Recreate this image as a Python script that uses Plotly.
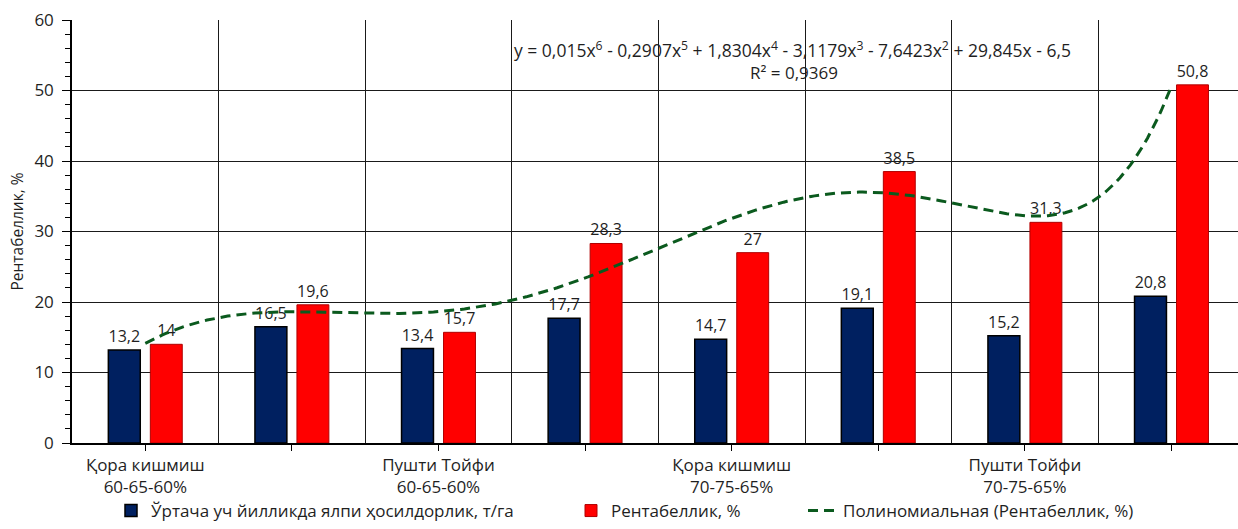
import numpy as np
import plotly.graph_objects as go

# ---- data ----
tick_labels = ["Қора кишмиш<br>60-65-60%", "", "Пушти Тойфи<br>60-65-60%", "",
               "Қора кишмиш<br>70-75-65%", "", "Пушти Тойфи<br>70-75-65%", ""]
yield_vals = [13.2, 16.5, 13.4, 17.7, 14.7, 19.1, 15.2, 20.8]
rent_vals = [14, 19.6, 15.7, 28.3, 27, 38.5, 31.3, 50.8]
# polynomial trendline coefficients as shown on the chart (x^6 ... x^0)
trend_coeffs = [0.015, -0.2907, 1.8304, -3.1179, -7.6423, 29.845, -6.5]

name_yield = "Ўртача уч йилликда ялпи ҳосилдорлик, т/га"
name_rent = "Рентабеллик, %"
name_trend = "Полиномиальная (Рентабеллик, %)"

FONT = "Open Sans"
TXT = "#1f1f1f"

x_idx = list(range(len(yield_vals)))

def fmt(v):
    return f"{v:g}".replace(".", ",")

fig = go.Figure()
fig.add_trace(go.Bar(
    x=x_idx, y=yield_vals, name=name_yield,
    marker=dict(color="#002060", line=dict(color="#000000", width=1.5)),
    text=[fmt(v) for v in yield_vals], textposition="outside",
    textfont=dict(family=FONT, size=16, color=TXT),
    cliponaxis=False, legend="legend", showlegend=True,
))
fig.add_trace(go.Bar(
    x=x_idx, y=rent_vals, name=name_rent,
    marker=dict(color="#FF0000", line=dict(color="#B00000", width=1)),
    text=[fmt(v) for v in rent_vals], textposition="outside",
    textfont=dict(family=FONT, size=16, color=TXT),
    cliponaxis=False, legend="legend2", showlegend=True,
))

xt = np.linspace(1, len(rent_vals), 300)
yt = np.polyval(trend_coeffs, xt)
fig.add_trace(go.Scatter(
    x=xt - 1, y=yt, mode="lines", name=name_trend,
    line=dict(color="#0B5A1E", width=3, dash="10px,6px"),
    legend="legend3", showlegend=True,
))

L, T, B = 72, 20, 86
W, H = 1238, 529
pw = W - L
ph = H - T - B

def px(xp):
    return (xp - L) / pw

def py(yp):
    return (T + ph - yp) / ph

def cx(xp):
    return xp / W

leg_common = dict(orientation="h", yanchor="bottom", xanchor="left",
                  xref="container", yref="container", y=-0.009,
                  font=dict(family=FONT, size=17, color=TXT),
                  bgcolor="rgba(0,0,0,0)", borderwidth=0)

fig.update_layout(
    width=W, height=H,
    margin=dict(l=L, r=0, t=T, b=B, autoexpand=False),
    paper_bgcolor="white", plot_bgcolor="white",
    showlegend=True,
    barmode="group", bargap=0.427, bargroupgap=0.24,
    font=dict(family=FONT, color=TXT),
    legend=dict(x=cx(111), **leg_common),
    legend2=dict(x=cx(571), **leg_common),
    legend3=dict(x=cx(803), **leg_common),
    xaxis=dict(
        range=[-0.5, -0.5 + pw / 146.6],
        tickmode="array", tickvals=x_idx, ticktext=tick_labels,
        ticks="outside", ticklen=6, tickcolor="#000", tickwidth=1.3,
        tickfont=dict(family=FONT, size=17, color=TXT),
        showgrid=False, zeroline=False,
        showline=True, linecolor="#000", linewidth=1.5,
        minor=dict(tickmode="linear", tick0=0.5, dtick=1, showgrid=True,
                   gridcolor="#1a1a1a", gridwidth=1.3, ticks=""),
    ),
    yaxis=dict(
        range=[0, 60], dtick=10, tick0=0,
        ticks="outside", ticklen=8, tickcolor="#000", tickwidth=1.3,
        tickfont=dict(family=FONT, size=17, color=TXT),
        ticklabelstandoff=5,
        showgrid=True, gridcolor="#1a1a1a", gridwidth=1.3,
        zeroline=False, showline=True, linecolor="#000", linewidth=1.5,
        minor=dict(dtick=2, ticks="outside", ticklen=5, tickcolor="#000",
                   tickwidth=1.2, showgrid=False),
        title=dict(text="Рентабеллик, %", font=dict(family=FONT, size=15.5, color=TXT),
                   standoff=7),
    ),
    annotations=[
        dict(text="y = 0,015x<sup>6</sup> - 0,2907x<sup>5</sup> + 1,8304x<sup>4</sup> - 3,1179x<sup>3</sup> - 7,6423x<sup>2</sup> + 29,845x - 6,5",
             x=px(792), y=py(49), xref="paper", yref="paper", showarrow=False,
             xanchor="center", yanchor="middle",
             font=dict(family=FONT, size=17.5, color=TXT)),
        dict(text="R² = 0,9369", x=px(794), y=py(73), xref="paper", yref="paper",
             showarrow=False, xanchor="center", yanchor="middle",
             font=dict(family=FONT, size=17, color=TXT)),
    ],
)

fig.write_html("out.html")
